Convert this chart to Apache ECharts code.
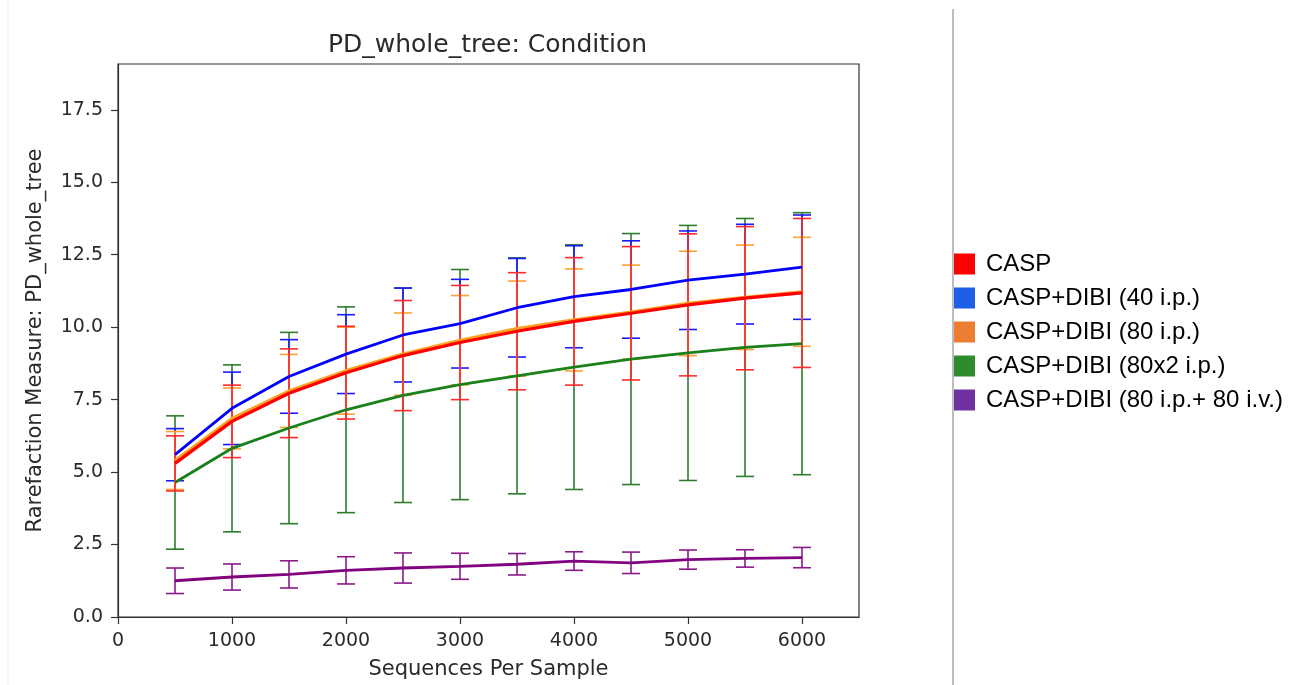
<!DOCTYPE html>
<html>
<head>
<meta charset="utf-8">
<script src="https://cdn.jsdelivr.net/npm/echarts@6/dist/echarts.min.js"></script>
<style>
html,body{margin:0;padding:0;background:#fff;}
#chart{width:1301px;height:685px;}
</style>
</head>
<body>
<div id="chart"></div>
<script>
// ---- data ----
const depths = [500, 1000, 1500, 2000, 2500, 3000, 3500, 4000, 4500, 5000, 5500, 6000];
const seriesNames = ['CASP', 'CASP+DIBI (40 i.p.)', 'CASP+DIBI (80 i.p.)', 'CASP+DIBI (80x2 i.p.)', 'CASP+DIBI (80 i.p.+ 80 i.v.)'];

const caspMean   = [5.30, 6.75, 7.72, 8.43, 9.02, 9.47, 9.86, 10.20, 10.48, 10.77, 11.00, 11.18];
const caspSd     = [0.95, 1.25, 1.53, 1.60, 1.90, 1.97, 2.02, 2.20, 2.30, 2.45, 2.47, 2.57];
const dibi40Mean = [5.60, 7.20, 8.30, 9.07, 9.73, 10.12, 10.67, 11.05, 11.30, 11.62, 11.83, 12.07];
const dibi40Sd   = [0.90, 1.25, 1.27, 1.36, 1.62, 1.53, 1.70, 1.76, 1.68, 1.70, 1.72, 1.80];
const dibi80Mean = [5.40, 6.85, 7.80, 8.50, 9.07, 9.55, 9.95, 10.25, 10.52, 10.82, 11.03, 11.22];
const dibi80Sd   = [1.00, 1.05, 1.26, 1.50, 1.42, 1.54, 1.64, 1.76, 1.62, 1.80, 1.80, 1.88];
const dibi80x2Mean = [4.64, 5.82, 6.52, 7.15, 7.65, 8.02, 8.32, 8.62, 8.90, 9.11, 9.30, 9.43];
const dibi80x2Sd   = [2.30, 2.88, 3.30, 3.55, 3.70, 3.97, 4.07, 4.22, 4.33, 4.40, 4.45, 4.52];
const dibiIvMean = [1.25, 1.38, 1.47, 1.61, 1.69, 1.75, 1.82, 1.93, 1.87, 1.98, 2.02, 2.05];
const dibiIvSd   = [0.44, 0.45, 0.47, 0.47, 0.52, 0.45, 0.37, 0.32, 0.37, 0.33, 0.30, 0.35];

const xTicks = [0, 1000, 2000, 3000, 4000, 5000, 6000];
const yTicks = [0, 2.5, 5, 7.5, 10, 12.5, 15, 17.5];

// ---- styles ----
const lineColors = ['#ff0000', '#0000ff', '#ffa020', '#1a801a', '#800080'];
const barColors  = ['#ff2a2a', '#1a1aff', '#ffa030', '#2e7d2e', '#8a1a8a'];
const legendColors = ['#ff0000', '#1f5fe8', '#ed7d31', '#2e8b2e', '#7030a0'];
const lineWidths = [3.2, 2.8, 3.2, 2.8, 2.8];

const means = [caspMean, dibi40Mean, dibi80Mean, dibi80x2Mean, dibiIvMean];
const sds   = [caspSd, dibi40Sd, dibi80Sd, dibi80x2Sd, dibiIvSd];

function errorBars(i) {
  return {
    type: 'custom',
    name: seriesNames[i],
    z: 2,
    itemStyle: { color: barColors[i] },
    data: depths.map((d, k) => [d, means[i][k], sds[i][k]]),
    renderItem: function (params, api) {
      const x = api.value(0), m = api.value(1), s = api.value(2);
      const top = api.coord([x, m + s]);
      const bot = api.coord([x, m - s]);
      const hw = 9;
      const st = { stroke: barColors[i], lineWidth: 1.6 };
      return {
        type: 'group',
        children: [
          { type: 'line', shape: { x1: top[0], y1: top[1], x2: bot[0], y2: bot[1] }, style: st },
          { type: 'line', shape: { x1: top[0] - hw, y1: top[1], x2: top[0] + hw, y2: top[1] }, style: st },
          { type: 'line', shape: { x1: bot[0] - hw, y1: bot[1], x2: bot[0] + hw, y2: bot[1] }, style: st }
        ]
      };
    }
  };
}

function meanLine(i, z) {
  return {
    type: 'line',
    name: seriesNames[i],
    z: z,
    data: depths.map((d, k) => [d, means[i][k]]),
    showSymbol: false,
    symbol: 'none',
    lineStyle: { color: lineColors[i], width: lineWidths[i] },
    itemStyle: { color: lineColors[i] },
    animation: false
  };
}

const series = [
  errorBars(3), errorBars(1), errorBars(2), errorBars(4), errorBars(0),
  meanLine(3, 5), meanLine(4, 5), meanLine(2, 5), meanLine(0, 6), meanLine(1, 6)
];

const chart = echarts.init(document.getElementById('chart'), null, { renderer: 'canvas' });
const txt = '#2a2a2a';
chart.setOption({
  animation: false,
  backgroundColor: '#fff',
  textStyle: { fontFamily: 'DejaVu Sans' },
  grid: { left: 118, right: 442, top: 64, bottom: 68, show: true, borderColor: '#333', borderWidth: 1.2, backgroundColor: 'transparent' },
  legend: {
    orient: 'vertical',
    left: 954,
    top: 252,
    padding: 0,
    itemWidth: 21,
    itemHeight: 21,
    itemGap: 10,
    icon: 'rect',
    textStyle: { fontFamily: 'Liberation Sans', fontSize: 24, color: '#000', lineHeight: 21, padding: [0, 0, 0, 6] },
    data: seriesNames.map((n, i) => ({ name: n, icon: 'rect', itemStyle: { color: legendColors[i] } }))
  },
  xAxis: {
    type: 'value',
    min: 0,
    max: 6500,
    interval: 1000,
    name: 'Sequences Per Sample',
    nameLocation: 'middle',
    nameGap: 42,
    nameTextStyle: { fontSize: 21, color: txt, fontFamily: 'DejaVu Sans' },
    axisLine: { show: true, lineStyle: { color: '#333', width: 1.2 } },
    axisTick: { show: true, length: 7, lineStyle: { color: '#333', width: 1.2 }, customValues: xTicks },
    axisLabel: { fontSize: 19, color: txt, margin: 15, customValues: xTicks, fontFamily: 'DejaVu Sans', formatter: v => String(v) },
    splitLine: { show: false }
  },
  yAxis: {
    type: 'value',
    min: 0,
    max: 19.08,
    interval: 2.5,
    name: 'Rarefaction Measure: PD_whole_tree',
    nameLocation: 'middle',
    nameGap: 72,
    nameTextStyle: { fontSize: 21, color: txt, fontFamily: 'DejaVu Sans' },
    axisLine: { show: true, lineStyle: { color: '#333', width: 1.2 } },
    axisTick: { show: true, length: 7, lineStyle: { color: '#333', width: 1.2 }, customValues: yTicks },
    axisLabel: { fontSize: 19, color: txt, margin: 15, customValues: yTicks, fontFamily: 'DejaVu Sans', formatter: v => v.toFixed(1) },
    splitLine: { show: false }
  },
  graphic: [
    { type: 'text', x: 487.5, y: 45, style: { text: 'PD_whole_tree: Condition', fontSize: 25, fontFamily: 'DejaVu Sans', fill: txt, align: 'center', verticalAlign: 'middle' } },
    { type: 'line', shape: { x1: 953, y1: 9, x2: 953, y2: 685 }, style: { stroke: '#bdbdbd', lineWidth: 2 } },
    { type: 'line', shape: { x1: 8, y1: 0, x2: 8, y2: 685 }, style: { stroke: '#ececec', lineWidth: 1 } }
  ],
  series: series
});
</script>
</body>
</html>
